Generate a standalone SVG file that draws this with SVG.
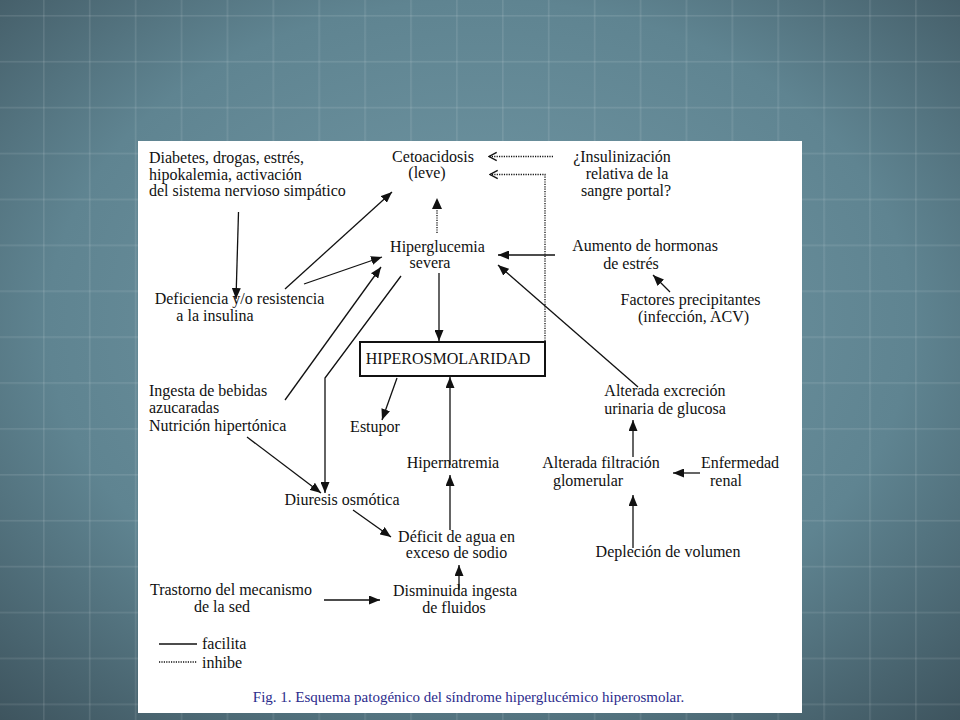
<svg xmlns="http://www.w3.org/2000/svg" width="960" height="720" viewBox="0 0 960 720">
<style>
.t{font-family:"Liberation Serif","Times New Roman",serif;font-size:16px;fill:#111}
.m{text-anchor:middle}
.c{fill:none;stroke:#111;stroke-width:1.3}
.d{fill:none;stroke:#111;stroke-width:1.3;stroke-dasharray:1.2 1.2}
.cap{font-family:"Liberation Serif","Times New Roman",serif;font-size:15px;fill:#2b2b8c;text-anchor:middle}
</style>
<defs>
<radialGradient id="bg" cx="50%" cy="45%" r="75%">
<stop offset="0" stop-color="#7399a6"/>
<stop offset="0.6" stop-color="#5f8491"/>
<stop offset="1" stop-color="#3d535d"/>
</radialGradient>
<pattern id="grid" x="43" y="15" width="45.9" height="45.9" patternUnits="userSpaceOnUse">
<rect x="0" y="0" width="1.6" height="45.9" fill="#ffffff" fill-opacity="0.1"/>
<rect x="0" y="0" width="45.9" height="1.6" fill="#ffffff" fill-opacity="0.1"/>
</pattern>
<marker id="ah" markerUnits="userSpaceOnUse" markerWidth="11" markerHeight="9" refX="11" refY="4.5" orient="auto">
<path d="M0,0 L11,4.5 L0,9 z" fill="#111"/>
</marker>
<marker id="ch" markerUnits="userSpaceOnUse" markerWidth="10" markerHeight="11" refX="8.5" refY="5" orient="auto">
<path d="M0.8,0.8 L8.5,5 L0.8,9.2" fill="none" stroke="#111" stroke-width="1.4"/>
</marker>
</defs>
<rect x="0" y="0" width="960" height="720" fill="url(#bg)"/>
<rect x="0" y="0" width="960" height="720" fill="url(#grid)"/>
<rect x="138" y="141" width="664" height="572" fill="#ffffff"/>

<g id="connectors">
<line class="c" x1="238.5" y1="212" x2="236" y2="299" marker-end="url(#ah)"/>
<line class="c" x1="285" y1="289" x2="392" y2="192" marker-end="url(#ah)"/>
<line class="c" x1="304" y1="284" x2="382" y2="257" marker-end="url(#ah)"/>
<line class="c" x1="285" y1="400" x2="381" y2="267" marker-end="url(#ah)"/>
<polyline class="c" points="401,276 325,378 325,493" marker-end="url(#ah)"/>
<line class="c" x1="247" y1="437" x2="321" y2="493" marker-end="url(#ah)"/>
<line class="c" x1="439" y1="273" x2="439" y2="341" marker-end="url(#ah)"/>
<line class="d" x1="437" y1="233" x2="437" y2="208"/>
<polygon points="437,198 442,209 432,209" fill="#111"/>
<line class="d" x1="553" y1="156.5" x2="489" y2="156.5" marker-end="url(#ch)"/>
<polyline class="d" points="545,341 545,174.5 490,174.5" marker-end="url(#ch)"/>
<line class="c" x1="555" y1="255" x2="498" y2="255" marker-end="url(#ah)"/>
<line class="c" x1="670" y1="292" x2="653" y2="275" marker-end="url(#ah)"/>
<line class="c" x1="638" y1="387" x2="498" y2="265" marker-end="url(#ah)"/>
<line class="c" x1="397" y1="378" x2="382" y2="420" marker-end="url(#ah)"/>
<line class="c" x1="450" y1="465" x2="450" y2="377" marker-end="url(#ah)"/>
<line class="c" x1="450" y1="530" x2="450" y2="475" marker-end="url(#ah)"/>
<line class="c" x1="353" y1="510" x2="391" y2="537" marker-end="url(#ah)"/>
<line class="c" x1="459" y1="590" x2="459" y2="565" marker-end="url(#ah)"/>
<line class="c" x1="324" y1="600" x2="380" y2="600" marker-end="url(#ah)"/>
<line class="c" x1="633" y1="457" x2="633" y2="420" marker-end="url(#ah)"/>
<line class="c" x1="700" y1="473" x2="673" y2="473" marker-end="url(#ah)"/>
<line class="c" x1="633" y1="548" x2="633" y2="495" marker-end="url(#ah)"/>
</g>

<g id="n_diabetes">
<text class="t" x="149" y="163">Diabetes, drogas, estrés,</text>
<text class="t" x="149" y="179.5">hipokalemia, activación</text>
<text class="t" x="149" y="196">del sistema nervioso simpático</text>
</g>
<g id="n_cetoacidosis">
<text class="t m" x="433" y="162">Cetoacidosis</text>
<text class="t m" x="427" y="178">(leve)</text>
</g>
<g id="n_insulinizacion">
<text class="t m" x="622" y="162">¿Insulinización</text>
<text class="t m" x="627" y="179">relativa de la</text>
<text class="t m" x="626" y="196">sangre portal?</text>
</g>
<g id="n_hiperglucemia">
<text class="t m" x="437.5" y="252">Hiperglucemia</text>
<text class="t m" x="430" y="268">severa</text>
</g>
<g id="n_aumento">
<text class="t m" x="645" y="251">Aumento de hormonas</text>
<text class="t m" x="631" y="268.5">de estrés</text>
</g>
<g id="n_factores">
<text class="t m" x="690.5" y="305">Factores precipitantes</text>
<text class="t m" x="693.5" y="322">(infección, ACV)</text>
</g>
<g id="n_deficiencia">
<text class="t m" x="239.5" y="304">Deficiencia y/o resistencia</text>
<text class="t m" x="215" y="321">a la insulina</text>
</g>
<g id="n_hiperosmolaridad">
<rect x="360" y="342" width="185" height="34" fill="#fff" stroke="#111" stroke-width="2"/>
<text class="t m" x="448" y="364">HIPEROSMOLARIDAD</text>
</g>
<g id="n_ingesta">
<text class="t" x="149" y="396">Ingesta de bebidas</text>
<text class="t" x="149" y="413">azucaradas</text>
<text class="t" x="149" y="431">Nutrición hipertónica</text>
</g>
<g id="n_estupor">
<text class="t m" x="375" y="432">Estupor</text>
</g>
<g id="n_alterada_excrecion">
<text class="t m" x="665" y="396">Alterada excreción</text>
<text class="t m" x="665" y="414">urinaria de glucosa</text>
</g>
<g id="n_hipernatremia">
<text class="t m" x="453" y="468">Hipernatremia</text>
</g>
<g id="n_alterada_filtracion">
<text class="t m" x="601" y="468">Alterada filtración</text>
<text class="t m" x="588" y="486">glomerular</text>
</g>
<g id="n_enfermedad">
<text class="t m" x="740" y="468">Enfermedad</text>
<text class="t m" x="726" y="486">renal</text>
</g>
<g id="n_diuresis">
<text class="t m" x="342" y="505">Diuresis osmótica</text>
</g>
<g id="n_deficit">
<text class="t m" x="456.5" y="542">Déficit de agua en</text>
<text class="t m" x="456.5" y="558">exceso de sodio</text>
</g>
<g id="n_deplecion">
<text class="t m" x="668" y="557">Depleción de volumen</text>
</g>
<g id="n_trastorno">
<text class="t m" x="231" y="595">Trastorno del mecanismo</text>
<text class="t m" x="222" y="612">de la sed</text>
</g>
<g id="n_disminuida">
<text class="t m" x="455" y="596">Disminuida ingesta</text>
<text class="t m" x="454" y="613">de fluidos</text>
</g>
<g id="legend">
<line class="c" x1="159" y1="644" x2="197" y2="644"/>
<text class="t" x="202" y="649">facilita</text>
<line class="d" x1="159" y1="662" x2="197" y2="662"/>
<text class="t" x="202" y="668">inhibe</text>
</g>
<g id="caption">
<text class="cap" x="468.5" y="702">Fig. 1. Esquema patogénico del síndrome hiperglucémico hiperosmolar.</text>
</g>
</svg>
